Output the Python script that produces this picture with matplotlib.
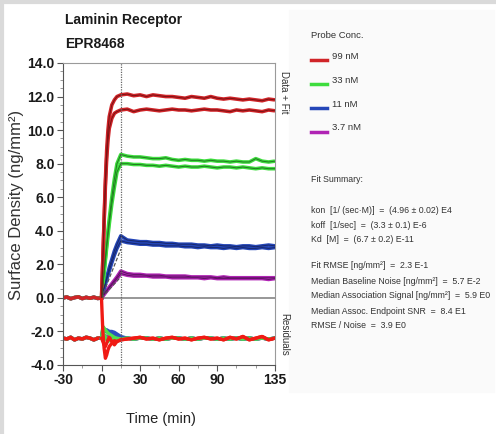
import matplotlib
matplotlib.use('Agg')
import matplotlib.pyplot as plt
from matplotlib.patches import Rectangle
from matplotlib.lines import Line2D
from matplotlib.ticker import MultipleLocator

FONT = ['Liberation Sans', 'DejaVu Sans']

# time grids (min)
T_BASE = [-30, -27, -24, -21, -18, -15, -12, -9, -6, -3, 0]
T_ASSOC = [0, 1, 2, 3, 4, 5, 6, 8, 10, 12, 15]
T_DISSOC = [15, 20, 25, 30, 35, 40, 45, 50, 55, 60, 65, 70, 75, 80, 85,
            90, 95, 100, 105, 110, 115, 120, 125, 130, 135]

BASELINE = [0.0, 0.05, -0.05, 0.02, 0.06, -0.04, 0.03, -0.02, 0.04, -0.03, 0.0]
RES_BASELINE = [-2.4, -2.45, -2.35, -2.5, -2.4, -2.45, -2.35, -2.4, -2.5, -2.4, -2.4]

# association phase, two replicates per concentration
ASSOC = {
    '99 nM': ([0, 2.3, 4.7, 7.0, 8.8, 10.0, 10.8, 11.5, 11.8, 12.0, 12.1],
              [0, 2.2, 4.5, 6.7, 8.3, 9.4, 10.1, 10.7, 11.0, 11.1, 11.2]),
    '33 nM': ([0, 0.8, 1.6, 2.4, 3.2, 4.0, 4.7, 6.0, 7.1, 8.0, 8.55],
              [0, 0.75, 1.5, 2.25, 3.0, 3.7, 4.4, 5.6, 6.6, 7.5, 8.0]),
    '11 nM': ([0, 0.3, 0.6, 0.9, 1.2, 1.5, 1.8, 2.3, 2.8, 3.2, 3.7],
              [0, 0.28, 0.55, 0.82, 1.1, 1.35, 1.6, 2.1, 2.55, 2.95, 3.4]),
    '3.7 nM': ([0, 0.12, 0.24, 0.35, 0.45, 0.55, 0.65, 0.85, 1.05, 1.25, 1.6],
               [0, 0.1, 0.2, 0.3, 0.4, 0.5, 0.6, 0.78, 0.95, 1.15, 1.45]),
}

# dissociation phase
DISSOC = {
    '99 nM': ([12.1, 12.15, 12.05, 12.1, 12.0, 12.1, 12.05, 12.0, 12.0, 11.95, 11.9, 12.0, 11.95,
               11.9, 12.0, 11.9, 11.85, 11.9, 11.85, 11.8, 11.85, 11.8, 11.75, 11.85, 11.8],
              [11.2, 11.25, 11.1, 11.2, 11.25, 11.2, 11.15, 11.2, 11.25, 11.2, 11.2, 11.15, 11.2,
               11.25, 11.2, 11.2, 11.15, 11.1, 11.2, 11.15, 11.2, 11.15, 11.1, 11.2, 11.15]),
    '33 nM': ([8.55, 8.45, 8.4, 8.4, 8.35, 8.3, 8.3, 8.35, 8.25, 8.2, 8.25, 8.2, 8.2,
               8.15, 8.2, 8.15, 8.15, 8.1, 8.15, 8.1, 8.1, 8.3, 8.15, 8.1, 8.15],
              [8.0, 8.0, 7.95, 7.95, 7.9, 7.9, 7.85, 7.9, 7.85, 7.8, 7.85, 7.8, 7.8,
               7.85, 7.8, 7.75, 7.8, 7.8, 7.75, 7.8, 7.75, 7.7, 7.75, 7.7, 7.7]),
    '11 nM': ([3.7, 3.45, 3.4, 3.35, 3.35, 3.3, 3.3, 3.25, 3.25, 3.2, 3.2, 3.2, 3.15,
               3.15, 3.1, 3.15, 3.1, 3.1, 3.05, 3.1, 3.1, 3.05, 3.1, 3.15, 3.1],
              [3.4, 3.3, 3.25, 3.2, 3.2, 3.15, 3.15, 3.1, 3.1, 3.1, 3.05, 3.05, 3.0,
               3.05, 3.0, 3.0, 2.95, 3.0, 2.95, 3.0, 2.95, 2.95, 3.0, 2.95, 3.0]),
    '3.7 nM': ([1.6, 1.45, 1.4, 1.4, 1.35, 1.35, 1.35, 1.3, 1.3, 1.3, 1.3, 1.25, 1.25,
                1.25, 1.25, 1.2, 1.25, 1.2, 1.2, 1.2, 1.2, 1.2, 1.2, 1.2, 1.2],
               [1.45, 1.35, 1.3, 1.3, 1.3, 1.25, 1.25, 1.25, 1.2, 1.2, 1.2, 1.2, 1.2,
                1.15, 1.2, 1.15, 1.15, 1.15, 1.15, 1.15, 1.15, 1.15, 1.15, 1.1, 1.15]),
}

# model fit during association where it departs from the data
FIT_T = [0, 15]
FIT_ASSOC = {'11 nM': [0, 2.9], '3.7 nM': [0, 1.25]}

# residuals (shifted down by 2.4)
RES_ASSOC = {
    '99 nM': ([-0.1, -2.0, -3.0, -3.6, -3.4, -3.1, -2.9, -2.7, -2.55, -2.6, -2.5],
              [-2.4, -2.6, -2.8, -2.9, -2.7, -2.5, -2.35, -2.6, -2.8, -2.6, -2.5]),
    '33 nM': ([-2.4, -1.7, -1.8, -1.9, -2.0, -2.1, -2.15, -2.25, -2.35, -2.4, -2.45],
              [-2.4, -2.0, -2.2, -2.3, -2.5, -2.6, -2.55, -2.5, -2.45, -2.45, -2.45]),
    '11 nM': ([-2.4, -1.8, -1.85, -1.9, -1.9, -1.95, -2.0, -2.0, -2.05, -2.15, -2.3],
              [-2.4, -1.9, -1.95, -2.0, -2.0, -2.05, -2.1, -2.15, -2.2, -2.3, -2.4]),
    '3.7 nM': ([-2.4, -2.2, -2.2, -2.25, -2.3, -2.3, -2.35, -2.35, -2.4, -2.4, -2.4],
               [-2.4, -2.25, -2.3, -2.3, -2.35, -2.35, -2.4, -2.4, -2.4, -2.45, -2.4]),
}
RES_DISSOC_RED = [-2.5, -2.45, -2.4, -2.35, -2.45, -2.4, -2.5, -2.4, -2.35, -2.45, -2.4, -2.5, -2.4,
                  -2.35, -2.45, -2.4, -2.5, -2.35, -2.45, -2.3, -2.5, -2.4, -2.3, -2.5, -2.4]
RES_DISSOC_OTHER = [-2.5, -2.4, -2.45, -2.4, -2.4, -2.45, -2.4, -2.45, -2.4, -2.4, -2.45, -2.4, -2.45,
                    -2.4, -2.4, -2.45, -2.4, -2.45, -2.4, -2.45, -2.4, -2.45, -2.4, -2.45, -2.4]

CONCS = ['99 nM', '33 nM', '11 nM', '3.7 nM']
COLORS = {'99 nM': '#d02428', '33 nM': '#3ddc3d', '11 nM': '#2446b8', '3.7 nM': '#b024b4'}
FIT_COLORS = {'99 nM': '#7a1214', '33 nM': '#217a21', '11 nM': '#18286a', '3.7 nM': '#5e1262'}
RES_COLORS = {'99 nM': '#f01a14', '33 nM': '#4ee04e', '11 nM': '#2a4fc0', '3.7 nM': '#b024b4'}

X_TICKS = [-30, 0, 30, 60, 90, 135]
Y_TICKS = [-4, -2, 0, 2, 4, 6, 8, 10, 12, 14]

SUMMARY = [
    ('Fit Summary:', 180),
    ('kon  [1/ (sec·M)]  =  (4.96 ± 0.02) E4', 211),
    ('koff  [1/sec]  =  (3.3 ± 0.1) E-6', 225),
    ('Kd  [M]  =  (6.7 ± 0.2) E-11', 239),
    ('Fit RMSE [ng/mm²]  =  2.3 E-1', 266),
    ('Median Baseline Noise [ng/mm²]  =  5.7 E-2', 281),
    ('Median Association Signal [ng/mm²]  =  5.9 E0', 296),
    ('Median Assoc. Endpoint SNR  =  8.4 E1', 311),
    ('RMSE / Noise  =  3.9 E0', 325),
]

W, H = 496, 434

fig = plt.figure(figsize=(W / 100, H / 100), dpi=100)

# light frame and side panel
fig.patches.append(Rectangle((289 / W, 1 - 392 / H), 205 / W, 382 / H,
                             transform=fig.transFigure, color='#fafafa', zorder=0))
fig.add_artist(Line2D([0.004, 0.004], [0, 1], color='#dadada', lw=3, transform=fig.transFigure))
fig.add_artist(Line2D([0, 1], [0.996, 0.996], color='#dadada', lw=3, transform=fig.transFigure))

ax = fig.add_axes([63 / W, 1 - 365 / H, 212 / W, 302 / H])

# baselines (drawn for all, red ends up on top)
for c in CONCS[::-1]:
    ax.plot(T_BASE, BASELINE, color=COLORS[c], lw=2.6, zorder=2)
    ax.plot(T_BASE, RES_BASELINE, color=RES_COLORS[c], lw=2.6, zorder=2)

for c in CONCS[::-1]:
    for rep in (0, 1):
        y = ASSOC[c][rep] + DISSOC[c][rep][1:]
        t = T_ASSOC + T_DISSOC[1:]
        ax.plot(t, y, color=COLORS[c], lw=2.6, zorder=3, solid_capstyle='butt')
        ax.plot(t, y, color=FIT_COLORS[c], lw=0.7, zorder=4)
    if c in FIT_ASSOC:
        ax.plot(FIT_T, FIT_ASSOC[c], color='#555555', lw=0.9, ls=(0, (3, 1.5)), zorder=4)

for c in CONCS[::-1]:
    dis = RES_DISSOC_RED if c == '99 nM' else RES_DISSOC_OTHER
    for rep in (0, 1):
        y = RES_ASSOC[c][rep] + dis[1:]
        t = T_ASSOC + T_DISSOC[1:]
        ax.plot(t, y, color=RES_COLORS[c], lw=2.4, zorder=3 if c != '99 nM' else 5)

ax.axhline(0, color='#7a7a7a', lw=1.1, zorder=1)
ax.axvline(15, color='#666666', lw=0.9, ls=(0, (1, 1)), zorder=6)

ax.set_xlim(-30, 135)
ax.set_ylim(-4, 14)
ax.set_xticks(X_TICKS)
ax.set_xticklabels(['%d' % v for v in X_TICKS])
ax.set_yticks(Y_TICKS)
ax.set_yticklabels(['%.1f' % v for v in Y_TICKS])
ax.xaxis.set_minor_locator(MultipleLocator(15))
ax.yaxis.set_minor_locator(MultipleLocator(0.5))
ax.tick_params(axis='both', which='major', length=4, width=0.8, color='#555555', pad=2)
ax.tick_params(axis='both', which='minor', length=2.5, width=0.6, color='#888888')
for lab in ax.get_xticklabels() + ax.get_yticklabels():
    lab.set_family(FONT)
    lab.set_fontweight('bold')
    lab.set_fontsize(10)
    lab.set_color('#1a1a1a')
for side in ('top', 'right'):
    ax.spines[side].set_color('#9a9a9a')
for side in ('left', 'bottom'):
    ax.spines[side].set_color('#555555')
for s in ax.spines.values():
    s.set_linewidth(0.8)

fig.text(65 / W, 1 - 20 / H, 'Laminin Receptor', family=FONT, fontweight='bold',
         fontsize=10, va='center', color='#1a1a1a')
fig.text(65 / W, 1 - 44 / H, 'EPR8468', family=FONT, fontweight='bold',
         fontsize=10, va='center', color='#1a1a1a')
fig.text(17 / W, 1 - 205 / H, 'Surface Density (ng/mm²)', family=FONT, fontsize=12,
         rotation=90, ha='center', va='center', color='#333333')
fig.text(161 / W, 1 - 419 / H, 'Time (min)', family=FONT, fontsize=10.5,
         ha='center', va='center', color='#222222')
fig.text(284 / W, 1 - 92 / H, 'Data + Fit', family=FONT, fontsize=7,
         rotation=-90, ha='center', va='center', color='#333333')
fig.text(284 / W, 1 - 334 / H, 'Residuals', family=FONT, fontsize=7,
         rotation=-90, ha='center', va='center', color='#333333')

# legend panel
fig.text(311 / W, 1 - 35 / H, 'Probe Conc.', family=FONT, fontsize=6.8,
         va='center', color='#333333')
for i, c in enumerate(CONCS):
    yl = 1 - (60 + 24 * i) / H
    fig.add_artist(Line2D([311 / W, 327 / W], [yl, yl], color=COLORS[c], lw=2.5,
                          transform=fig.transFigure))
    fig.text(332 / W, yl + 4 / H, c, family=FONT, fontsize=6.8, va='center', color='#333333')

for txt, ypx in SUMMARY:
    fig.text(311 / W, 1 - ypx / H, txt, family=FONT, fontsize=6.3,
             va='center', color='#333333')

fig.savefig('out.png', dpi=100)
